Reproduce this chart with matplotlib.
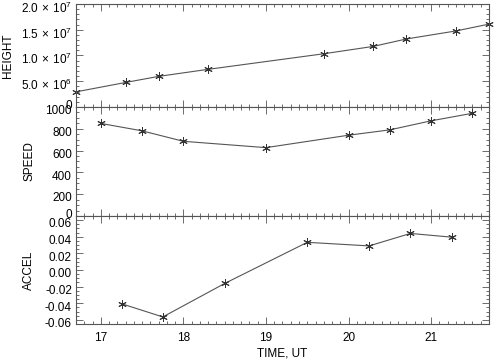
import numpy as np
import matplotlib
matplotlib.use("Agg")
import matplotlib.pyplot as plt
import matplotlib.transforms as mtransforms
from matplotlib.ticker import MultipleLocator, FixedLocator

# ---- data ----
t_height = [16.7, 17.3, 17.7, 18.3, 19.7, 20.3, 20.7, 21.3, 21.7]
height = [2.94e6, 4.76e6, 5.94e6, 7.31e6, 10.33e6, 11.76e6, 13.2e6, 14.76e6, 16.08e6]

t_speed = [17.0, 17.5, 18.0, 19.0, 20.0, 20.5, 21.0, 21.5]
speed = [849, 781, 685, 627, 741, 790, 873, 942]

t_accel = [17.25, 17.75, 18.5, 19.5, 20.25, 20.75, 21.25]
accel = [-0.0406, -0.0565, -0.0162, 0.0333, 0.0290, 0.0440, 0.0395]

height_ticks = [0, 5e6, 1e7, 1.5e7, 2e7]
height_labels = ['0', r'$\mathregular{5.0\,\times\,10^{6}}$', r'$\mathregular{1.0\,\times\,10^{7}}$',
                 r'$\mathregular{1.5\,\times\,10^{7}}$', r'$\mathregular{2.0\,\times\,10^{7}}$']
speed_ticks = [0, 200, 400, 600, 800, 1000]
accel_ticks = [-0.06, -0.04, -0.02, 0.0, 0.02, 0.04, 0.06]
accel_labels = ['-0.06', '-0.04', '-0.02', '0.00', '0.02', '0.04', '0.06']
time_ticks = [17, 18, 19, 20, 21]

plt.rcParams['font.family'] = ['Liberation Sans', 'DejaVu Sans']
plt.rcParams['font.size'] = 8.5
plt.rcParams['mathtext.fontset'] = 'custom'
plt.rcParams['mathtext.rm'] = 'Liberation Sans'

line_col = '#555555'
frame_col = '#555555'

fig, axes = plt.subplots(3, 1, figsize=(5.04, 3.6), dpi=100, sharex=True,
                         gridspec_kw=dict(height_ratios=[103, 109, 108]))
fig.subplots_adjust(left=0.151, right=0.970, top=0.989, bottom=0.100, hspace=0)

mk = dict(marker=(6, 2, 0), markersize=6, markeredgewidth=0.7,
          markeredgecolor='#333333', color=line_col, linewidth=0.8)

ax1, ax2, ax3 = axes
ax1.plot(t_height, height, **mk, clip_on=False)
ax2.plot(t_speed, speed, **mk)
ax3.plot(t_accel, accel, **mk)

ax1.set_ylim(0, 2e7)
ax1.yaxis.set_major_locator(FixedLocator(height_ticks))
ax1.set_yticklabels(height_labels)
ax1.yaxis.set_minor_locator(MultipleLocator(1e6))
ax1.set_ylabel('HEIGHT', labelpad=5)

ax2.set_ylim(0, 1000)
ax2.yaxis.set_major_locator(FixedLocator(speed_ticks))
ax2.set_yticklabels([str(v) for v in speed_ticks])
ax2.yaxis.set_minor_locator(MultipleLocator(50))
ax2.set_ylabel('SPEED', labelpad=7)

ax3.set_ylim(-0.065, 0.065)
ax3.yaxis.set_major_locator(FixedLocator(accel_ticks))
ax3.set_yticklabels(accel_labels)
ax3.yaxis.set_minor_locator(MultipleLocator(0.005))
ax3.set_ylabel('ACCEL', labelpad=7)

ax3.set_xlim(16.7, 21.7)
ax3.xaxis.set_major_locator(FixedLocator(time_ticks))
ax3.xaxis.set_minor_locator(MultipleLocator(0.1))
ax3.set_xticklabels([str(v) for v in time_ticks])
ax3.set_xlabel('TIME, UT', labelpad=2)

for ax in axes:
    for s in ax.spines.values():
        s.set_color(frame_col)
        s.set_linewidth(0.8)
    ax.tick_params(which='both', direction='in', top=True, right=True,
                   color=frame_col, width=0.6)
    ax.tick_params(which='major', length=5, pad=3)
    ax.tick_params(which='minor', length=2.5)
    ax.tick_params(axis='x', which='major', pad=6)

# nudge the y tick labels a little, as the IDL original does
down = mtransforms.ScaledTranslation(0, -2 / 72, fig.dpi_scale_trans)
up = mtransforms.ScaledTranslation(0, 2 / 72, fig.dpi_scale_trans)
for ax in (ax1, ax2, ax3):
    labs = ax.get_yticklabels()
    for i, lab in enumerate(labs):
        lab.set_verticalalignment('center_baseline')
        if ax is not ax3 and i == 0:
            lab.set_transform(lab.get_transform() + up)
        else:
            lab.set_transform(lab.get_transform() + down)

fig.savefig('out.png', dpi=100)
